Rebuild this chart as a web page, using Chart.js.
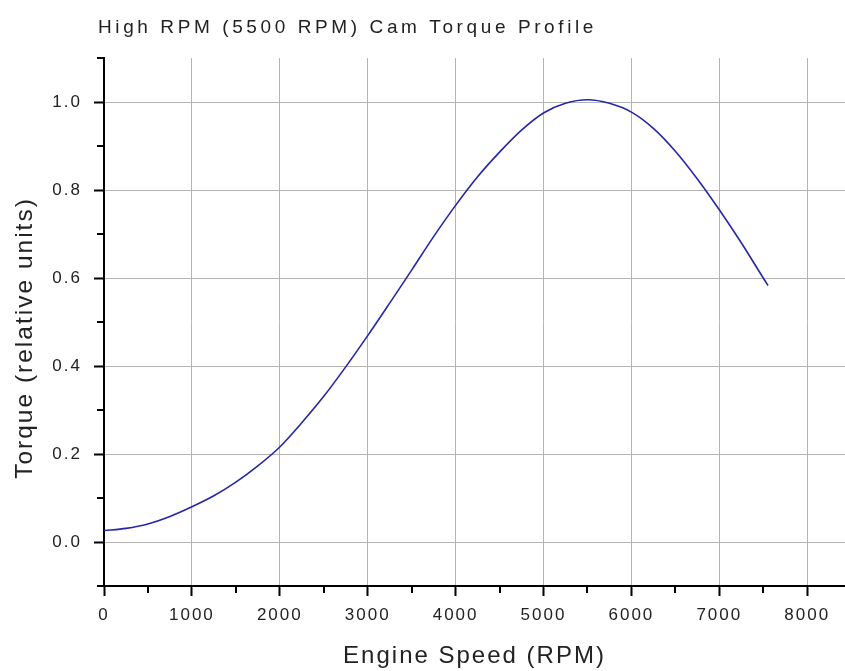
<!DOCTYPE html>
<html>
<head>
<meta charset="utf-8">
<script src="https://cdn.jsdelivr.net/npm/chart.js@4.4.3/dist/chart.umd.min.js"></script>
<style>
  html, body { margin: 0; padding: 0; background: #fff; overflow: hidden; }
  canvas { display: block; }
</style>
</head>
<body>
<canvas id="chart" width="845" height="671"></canvas>
<script>
const TITLE = "High RPM (5500 RPM) Cam Torque Profile";
const X_TITLE = "Engine Speed (RPM)";
const Y_TITLE = "Torque (relative units)";

const rpm = [0, 250, 500, 750, 1000, 1250, 1500, 1750, 2000, 2250, 2500, 2750,
  3000, 3250, 3500, 3750, 4000, 4250, 4500, 4750, 5000, 5250, 5500, 5750,
  6000, 6250, 6500, 6750, 7000, 7250, 7500, 7555];
const torque = [0.026, 0.031, 0.041, 0.058, 0.08, 0.105, 0.136, 0.173, 0.216, 0.271, 0.331, 0.398,
  0.469, 0.543, 0.618, 0.694, 0.765, 0.83, 0.886, 0.936, 0.975, 0.997, 1.005, 0.997,
  0.977, 0.94, 0.888, 0.825, 0.755, 0.68, 0.6, 0.583];

// graduations (les vides = petits traits sans texte)
const xTicks = [0, 500, 1000, 1500, 2000, 2500, 3000, 3500, 4000, 4500, 5000, 5500, 6000, 6500, 7000, 7500, 8000];
const xLabels = ["0", "", "1000", "", "2000", "", "3000", "", "4000", "", "5000", "", "6000", "", "7000", "", "8000"];
const yTicks = [-0.1, 0, 0.1, 0.2, 0.3, 0.4, 0.5, 0.6, 0.7, 0.8, 0.9, 1.0, 1.1];
const yLabels = ["", "0.0", "", "0.2", "", "0.4", "", "0.6", "", "0.8", "", "1.0", ""];

const X_MIN = 0, X_MAX = 8430;
const Y_MIN = -0.1, Y_MAX = 1.1;

const isMajor = (labels, i) => labels[i] !== "";

const FONT = "'Liberation Sans', Arial, sans-serif";
Chart.defaults.font.family = FONT;
Chart.defaults.color = "#222";

// petits traits, titre et titre vertical
const extras = {
  id: "extras",
  beforeDraw(chart) {
    chart.ctx.letterSpacing = "2px";
  },
  afterDraw(chart) {
    const { ctx, chartArea: a, scales: { x, y } } = chart;
    ctx.save();
    ctx.strokeStyle = "#000";
    ctx.lineWidth = 2;
    ctx.beginPath();
    x.ticks.forEach((t, i) => {
      if (!isMajor(xLabels, i)) {
        const px = Math.round(x.getPixelForValue(t.value));
        ctx.moveTo(px, a.bottom);
        ctx.lineTo(px, a.bottom + 7);
      }
    });
    y.ticks.forEach((t, i) => {
      if (!isMajor(yLabels, i)) {
        const py = Math.round(y.getPixelForValue(t.value));
        ctx.moveTo(a.left, py);
        ctx.lineTo(a.left - 7, py);
      }
    });
    ctx.stroke();

    ctx.fillStyle = "#222";
    ctx.textBaseline = "middle";

    ctx.letterSpacing = "3.6px";
    ctx.font = "19px " + FONT;
    ctx.textAlign = "left";
    ctx.fillText(TITLE, a.left - 6, 28);

    ctx.letterSpacing = "2px";
    ctx.font = "24.5px " + FONT;
    ctx.textAlign = "center";
    ctx.translate(25, a.top + (a.bottom - a.top) / 2 + 16);
    ctx.rotate(-Math.PI / 2);
    ctx.fillText(Y_TITLE, 0, 0);
    ctx.restore();
  },
};

new Chart(document.getElementById("chart"), {
  type: "line",
  data: {
    datasets: [{
      data: rpm.map((r, i) => ({ x: r, y: torque[i] })),
      borderColor: "#2626a8",
      borderWidth: 1.6,
      pointRadius: 0,
      tension: 0.3,
      fill: false,
    }],
  },
  options: {
    responsive: false,
    animation: false,
    layout: { padding: { top: 58, right: 0, bottom: 0, left: 0 } },
    plugins: { legend: { display: false }, tooltip: { enabled: false } },
    scales: {
      x: {
        type: "linear",
        min: X_MIN,
        max: X_MAX,
        afterBuildTicks: (s) => { s.ticks = xTicks.map((v) => ({ value: v })); },
        afterFit: (s) => { s.height = 85; },
        ticks: {
          autoSkip: false,
          maxRotation: 0,
          padding: 9,
          font: { size: 17 },
          callback: (v, i) => xLabels[i],
        },
        grid: {
          color: (c) => (isMajor(xLabels, c.index) ? "#b4b4b4" : "rgba(0,0,0,0)"),
          tickColor: (c) => (isMajor(xLabels, c.index) ? "#000" : "rgba(0,0,0,0)"),
          tickLength: 10,
          tickWidth: 2,
        },
        border: { color: "#000", width: 2 },
        title: { display: true, text: X_TITLE, font: { size: 24 }, padding: { top: 0, bottom: 0 } },
      },
      y: {
        min: Y_MIN,
        max: Y_MAX,
        afterBuildTicks: (s) => { s.ticks = yTicks.map((v) => ({ value: v })); },
        afterFit: (s) => { s.width = 104; },
        ticks: {
          autoSkip: false,
          padding: 12,
          font: { size: 17 },
          callback: (v, i) => yLabels[i],
        },
        grid: {
          color: (c) => (isMajor(yLabels, c.index) ? "#b4b4b4" : "rgba(0,0,0,0)"),
          tickColor: (c) => (isMajor(yLabels, c.index) ? "#000" : "rgba(0,0,0,0)"),
          tickLength: 10,
          tickWidth: 2,
        },
        border: { color: "#000", width: 2 },
        title: { display: false },
      },
    },
  },
  plugins: [extras],
});
</script>
</body>
</html>
